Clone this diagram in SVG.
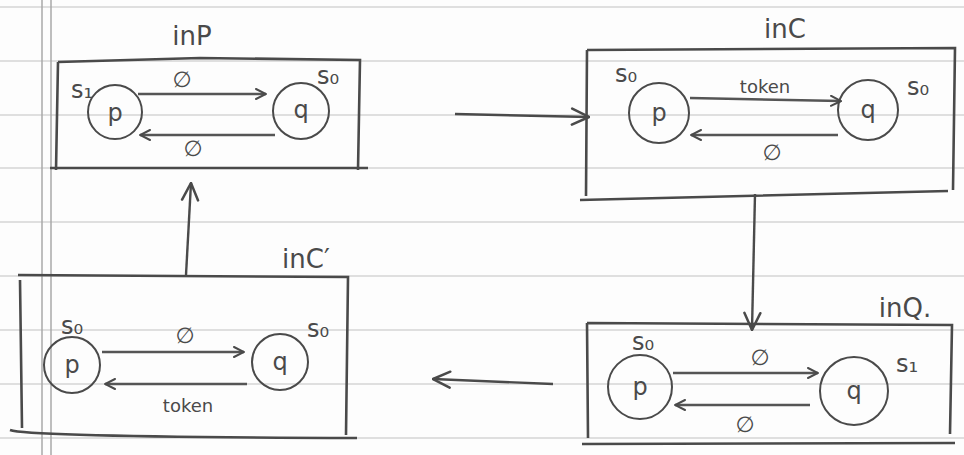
<svg xmlns="http://www.w3.org/2000/svg" width="964" height="455" viewBox="0 0 964 455">
<defs>
<marker id="ah" viewBox="0 0 12 12" refX="11" refY="6" markerWidth="12" markerHeight="12" markerUnits="userSpaceOnUse" orient="auto">
<path d="M1,1 L11,6 L1,11" fill="none" stroke="#4a4a4a" stroke-width="2" stroke-linecap="round"/>
</marker>
<marker id="ahb" viewBox="0 0 20 20" refX="19" refY="10" markerWidth="20" markerHeight="20" markerUnits="userSpaceOnUse" orient="auto">
<path d="M2,2 L19,10 L2,18" fill="none" stroke="#4a4a4a" stroke-width="2.5" stroke-linecap="round"/>
</marker>
<style>
.rule{stroke:#d4d4d4;stroke-width:1.5}
.margin{stroke:#a8a8a8;stroke-width:1.5}
.box{fill:none;stroke:#4a4a4a;stroke-width:2.6}
.st{fill:none;stroke:#4a4a4a;stroke-width:2}
.tr{fill:none;stroke:#555;stroke-width:2.4;marker-end:url(#ah)}
.conn{fill:none;stroke:#4a4a4a;stroke-width:2.4;marker-end:url(#ahb)}
text{font-family:"DejaVu Sans","Liberation Sans",sans-serif;fill:#4a4a4a}
.nl{font-size:24px;text-anchor:middle}
.lbl{font-size:18px;text-anchor:middle}
.es{font-size:22px;text-anchor:middle}
.sl{font-size:24px;text-anchor:middle}
.ttl{font-size:26px;text-anchor:middle}
</style>
</defs>
<rect width="964" height="455" fill="#fdfdfd"/>
<g id="paper">
<line class="rule" x1="0" y1="7" x2="964" y2="7"/>
<line class="rule" x1="0" y1="61" x2="964" y2="61"/>
<line class="rule" x1="0" y1="115" x2="964" y2="115"/>
<line class="rule" x1="0" y1="168" x2="964" y2="168"/>
<line class="rule" x1="0" y1="222" x2="964" y2="222"/>
<line class="rule" x1="0" y1="276" x2="964" y2="276"/>
<line class="rule" x1="0" y1="330" x2="964" y2="330"/>
<line class="rule" x1="0" y1="384" x2="964" y2="384"/>
<line class="rule" x1="0" y1="438" x2="964" y2="438"/>
<line class="margin" x1="42" y1="0" x2="42" y2="455"/>
<line class="margin" x1="51" y1="0" x2="51" y2="455"/>
</g>
<g id="inP">
<path class="box" d="M58,62 L200,58 L360,60 L358,170 M50,168 L368,168 M58,62 L56,170"/>
<text class="ttl" x="192" y="45">inP</text>
<circle class="st" cx="115" cy="112" r="27"/>
<text class="nl" x="115" y="121">p</text>
<circle class="st" cx="301" cy="111" r="28"/>
<text class="nl" x="301" y="118">q</text>
<text class="sl" x="82" y="98">s₁</text>
<text class="sl" x="328" y="84">s₀</text>
<line class="tr" x1="138" y1="94" x2="266" y2="94"/>
<text class="es" x="182" y="87">∅</text>
<line class="tr" x1="275" y1="135" x2="140" y2="135"/>
<text class="es" x="193" y="156">∅</text>
</g>
<g id="inC">
<path class="box" d="M587,50 L955,48 L953,190 M580,200 L948,191 M587,50 L586,196"/>
<text class="ttl" x="785" y="38">inC</text>
<circle class="st" cx="659" cy="113" r="30"/>
<text class="nl" x="659" y="121">p</text>
<circle class="st" cx="868" cy="110" r="30"/>
<text class="nl" x="868" y="118">q</text>
<text class="sl" x="626" y="82">s₀</text>
<text class="sl" x="918" y="95">s₀</text>
<line class="tr" x1="690" y1="98" x2="841" y2="101"/>
<text class="lbl" x="765" y="93">token</text>
<line class="tr" x1="838" y1="135" x2="691" y2="135"/>
<text class="es" x="772" y="160">∅</text>
</g>
<g id="inQ">
<path class="box" d="M587,323 L952,325 L950,434 M582,444 L955,443 M587,323 L588,438"/>
<text class="ttl" x="905" y="317">inQ.</text>
<circle class="st" cx="640" cy="387" r="32"/>
<text class="nl" x="640" y="395">p</text>
<circle class="st" cx="854" cy="391" r="34"/>
<text class="nl" x="854" y="399">q</text>
<text class="sl" x="643" y="350">s₀</text>
<text class="sl" x="907" y="372">s₁</text>
<line class="tr" x1="673" y1="373" x2="818" y2="373"/>
<text class="es" x="760" y="365">∅</text>
<line class="tr" x1="810" y1="405" x2="675" y2="405"/>
<text class="es" x="745" y="432">∅</text>
</g>
<g id="inCprime">
<path class="box" d="M18,275 L348,277 L346,435 M10,430 Q30,437 357,438 M20,280 L22,428"/>
<text class="ttl" x="306" y="268">inC′</text>
<circle class="st" cx="72" cy="365" r="28"/>
<text class="nl" x="72" y="373">p</text>
<circle class="st" cx="280" cy="362" r="28"/>
<text class="nl" x="280" y="370">q</text>
<text class="sl" x="72" y="334">s₀</text>
<text class="sl" x="318" y="337">s₀</text>
<line class="tr" x1="102" y1="352" x2="244" y2="352"/>
<text class="es" x="185" y="343">∅</text>
<line class="tr" x1="247" y1="384" x2="105" y2="384"/>
<text class="lbl" x="188" y="412">token</text>
</g>
<g id="connectors">
<line class="conn" x1="455" y1="114" x2="589" y2="117"/>
<line class="conn" x1="755" y1="194" x2="752" y2="330"/>
<line class="conn" x1="553" y1="384" x2="433" y2="379"/>
<line class="conn" x1="186" y1="275" x2="191" y2="183"/>
</g>
</svg>
